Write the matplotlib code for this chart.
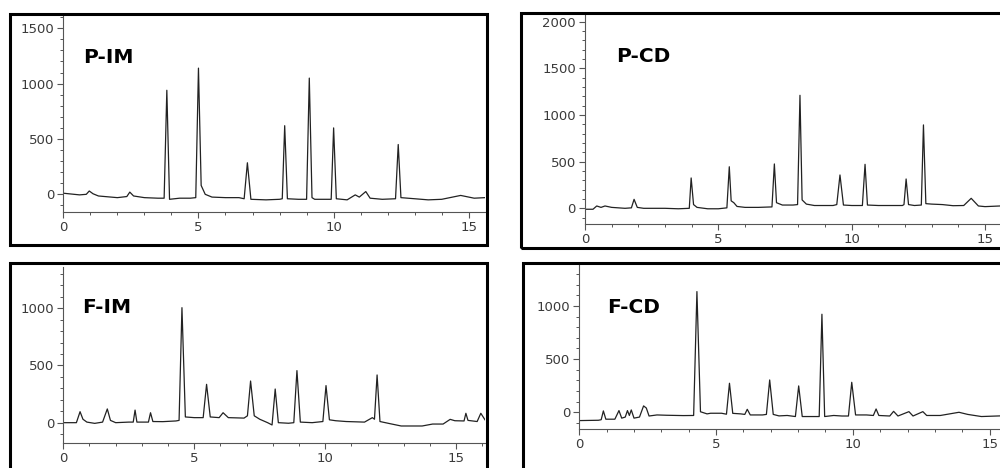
import matplotlib.pyplot as plt
from matplotlib.patches import Rectangle
from matplotlib.ticker import MultipleLocator

# chromatogram traces (time in min, signal)
pim_time = [0.0, 0.6, 0.85, 0.96, 1.1, 1.3, 2.0, 2.35, 2.46, 2.6, 3.0, 3.5, 3.73, 3.83, 3.93,
            4.3, 4.7, 4.9, 5.0, 5.1, 5.25, 5.5, 6.0, 6.5, 6.69, 6.81, 6.94, 7.5, 8.0, 8.1,
            8.19, 8.29, 8.7, 9.0, 9.10, 9.2, 9.3, 9.91, 10.0, 10.1, 10.5, 10.8, 10.95,
            11.19, 11.35, 11.8, 12.29, 12.39, 12.49, 13.0, 13.5, 14.0, 14.7, 15.2, 15.6]
pim_signal = [10, -5, 0, 30, 5, -15, -30, -20, 20, -15, -30, -35, -35, 940, -45,
              -35, -35, -30, 1140, 80, 0, -25, -30, -30, -40, 285, -45, -50, -45, -40,
              620, -40, -45, -45, 1050, -30, -45, -45, 600, -40, -50, -5, -25,
              25, -35, -45, -40, 450, -30, -40, -50, -45, -10, -35, -30]

pcd_time = [0.0, 0.3, 0.44, 0.6, 0.75, 1.0, 1.5, 1.74, 1.84, 1.96, 2.2, 3.0, 3.5, 3.91, 3.98,
            4.07, 4.2, 4.6, 5.0, 5.32, 5.41, 5.48, 5.58, 5.7, 6.0, 6.5, 7.01, 7.1, 7.18,
            7.4, 7.8, 7.97, 8.06, 8.14, 8.3, 8.6, 9.3, 9.44, 9.56, 9.69, 10.0, 10.4, 10.5,
            10.59, 11.0, 11.9, 11.96, 12.04, 12.13, 12.35, 12.61, 12.69, 12.78, 13.0,
            13.4, 13.8, 14.2, 14.48, 14.75, 15.0, 15.56]
pcd_signal = [-10, -10, 25, 10, 25, 10, 0, 5, 96, 10, 0, 0, -5, 0, 325,
              40, 10, -5, -5, 5, 445, 80, 60, 20, 10, 10, 15, 475, 60,
              35, 35, 40, 1210, 90, 45, 30, 30, 40, 357, 35, 30, 30, 471,
              35, 30, 30, 40, 314, 40, 30, 35, 893, 50, 45,
              40, 28, 30, 107, 25, 18, 25]

fim_time = [0.0, 0.5, 0.64, 0.75, 0.9, 1.2, 1.5, 1.68, 1.8, 2.0, 2.5, 2.67, 2.74, 2.81, 3.25,
            3.33, 3.42, 3.8, 4.3, 4.42, 4.53, 4.66, 5.0, 5.34, 5.47, 5.61, 5.95, 6.1, 6.3,
            6.9, 7.03, 7.15, 7.29, 7.5, 7.8, 7.97, 8.09, 8.21, 8.6, 8.8, 8.92, 9.05, 9.5,
            9.91, 10.03, 10.16, 10.4, 10.8, 11.5, 11.8, 11.88, 11.98, 12.09, 12.5, 12.9,
            13.7, 14.1, 14.5, 14.77, 14.95, 15.3, 15.37, 15.45, 15.8, 15.94, 16.1]
fim_signal = [0, 0, 96, 30, 5, -6, 5, 120, 20, 0, 5, 5, 110, 5, 5,
              87, 10, 9, 15, 20, 1005, 50, 44, 44, 335, 50, 44, 87, 44,
              40, 60, 364, 60, 30, 0, -20, 294, 0, -5, 0, 455, 5, 0,
              10, 324, 25, 17, 10, 5, 44, 30, 417, 10, -10, -29,
              -29, -12, -12, 29, 17, 15, 82, 20, 10, 82, 25]

fcd_time = [0.0, 0.7, 0.8, 0.88, 0.97, 1.3, 1.45, 1.55, 1.68, 1.76, 1.83, 1.9, 2.0, 2.2, 2.35,
            2.45, 2.55, 2.84, 3.2, 3.8, 4.18, 4.3, 4.43, 4.67, 4.8, 5.2, 5.38, 5.49, 5.61,
            5.9, 6.05, 6.14, 6.25, 6.7, 6.84, 6.96, 7.09, 7.3, 7.6, 7.9, 8.02, 8.15, 8.5,
            8.77, 8.87, 8.97, 9.3, 9.6, 9.84, 9.96, 10.1, 10.5, 10.75, 10.85, 10.95,
            11.35, 11.49, 11.65, 12.05, 12.2, 12.56, 12.7, 13.2, 13.88, 14.2, 14.7, 15.38]
fcd_signal = [-78, -75, -70, 13, -65, -65, 16, -55, -45, 16, -30, 22, -55, -45, 60,
              40, -35, -25, -28, -31, -30, 1135, 5, -15, -9, -9, -18, 273, -10,
              -15, -20, 28, -25, -25, -20, 304, -20, -34, -30, -40, 248, -40, -40,
              -40, 922, -40, -30, -35, -35, 282, -25, -25, -30, 31, -30,
              -35, 9, -35, 6, -35, 6, -30, -30, 0, -20, -40, -34]

labels = ["P-IM", "P-CD", "F-IM", "F-CD"]

W, H = 1000, 468


def px_axes(fig, left, top, right, bottom):
    # axes placed from pixel edges (top-left origin)
    return fig.add_axes([left / W, 1 - bottom / H, (right - left) / W, (bottom - top) / H])


def chromatogram(ax, t, s, xmax, ylim):
    ax.plot(t, s, color="#222222", lw=0.9)
    ax.set_xlim(0, xmax)
    ax.set_ylim(*ylim)
    for side in ("top", "right"):
        ax.spines[side].set_visible(False)
    for side in ("left", "bottom"):
        ax.spines[side].set_color("#555555")
        ax.spines[side].set_linewidth(0.8)
    ax.xaxis.set_major_locator(MultipleLocator(5))
    ax.xaxis.set_minor_locator(MultipleLocator(1))
    ax.yaxis.set_major_locator(MultipleLocator(500))
    ax.yaxis.set_minor_locator(MultipleLocator(100))
    ax.tick_params(which="major", length=4, width=0.8, color="#555555",
                   labelsize=9.5, labelcolor="#3a3a3a", pad=2.5)
    ax.tick_params(which="minor", length=2.3, width=0.7, color="#555555")
    ax.patch.set_alpha(0)


def frame(fig, left, top, right, bottom):
    r = Rectangle((left / W, 1 - bottom / H), (right - left) / W, (bottom - top) / H,
                  transform=fig.transFigure, fill=False, edgecolor="black", lw=2.2,
                  clip_on=False)
    fig.patches.append(r)


fig = plt.figure(figsize=(10, 4.68), dpi=100)

# outer boxes around each chromatogram
frame(fig, 10, 14, 487, 245)
frame(fig, 521, 13, 1012, 248)
frame(fig, 10, 263, 487, 480)
frame(fig, 523, 263, 1012, 480)

ax1 = px_axes(fig, 63.3, 15, 485, 211.7)
chromatogram(ax1, pim_time, pim_signal, 15.6, (-157, 1620))

ax2 = px_axes(fig, 585, 15, 1000, 224)
chromatogram(ax2, pcd_time, pcd_signal, 15.56, (-168, 2070))

ax3 = px_axes(fig, 63.3, 266.7, 485, 442.7)
chromatogram(ax3, fim_time, fim_signal, 16.1, (-175, 1363))

ax4 = px_axes(fig, 579.3, 265, 1000, 429.3)
chromatogram(ax4, fcd_time, fcd_signal, 15.38, (-160, 1385))

# sample names
label_pos = [(83, 63), (616, 62), (82, 313), (607, 313)]
for name, (x, y) in zip(labels, label_pos):
    fig.text(x / W, 1 - y / H, name, fontsize=14.5, fontweight="bold",
             family="DejaVu Sans", va="baseline", ha="left")

plt.savefig("out.png", dpi=100)
